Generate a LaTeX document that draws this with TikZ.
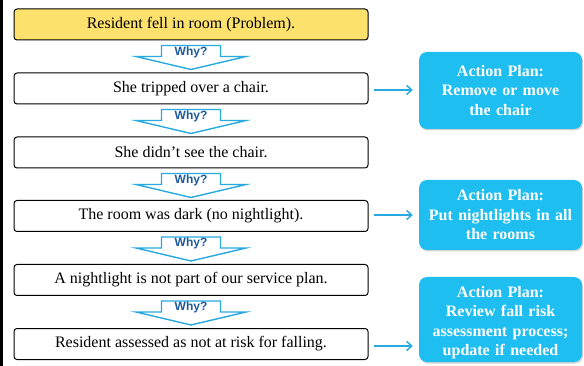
\documentclass[tikz,border=0pt]{standalone}
\usepackage{fontspec}
\setmainfont{Liberation Serif}
\newfontfamily\whyfont{Liberation Sans}
\usetikzlibrary{calc,arrows.meta,shadows}

\definecolor{probyellow}{HTML}{FDE16D}
\definecolor{plancyan}{HTML}{1EBEF0}
\definecolor{linkcyan}{HTML}{29A9E0}
\definecolor{whyblue}{HTML}{1C5A9C}

\tikzset{
  causebox/.style={draw=black, line width=1pt, rounded corners=3pt, fill=white,
    minimum width=354pt, minimum height=31pt, inner sep=0pt,
    font=\fontsize{16}{19}\selectfont},
  problembox/.style={causebox, fill=probyellow},
  plantext/.style={text=white, align=center, text width=157pt, inner sep=1pt,
    font=\bfseries\fontsize{16}{19.5}\selectfont},
  planbox/.style={plantext, fill=plancyan, rounded corners=8pt, minimum width=163pt,
    drop shadow={shadow xshift=1pt, shadow yshift=-1.5pt, opacity=0.35}},
  whyshape/.style={draw=linkcyan, line width=1.4pt, fill=white},
  whylabel/.style={text=whyblue, inner sep=0pt, font=\whyfont\bfseries\fontsize{12}{14}\selectfont},
  planlink/.style={draw=linkcyan, line width=1.5pt, -{Straight Barb[length=5pt,width=9pt]}}
}

% arrow "Why?" hanging under a box
\newcommand\whydrop[2]{%
  \draw[whyshape] ($(#1.south)+(-29.5,5)$) -- ++(59,0) -- ++(0,11) -- ++(25.5,0)
    -- ($(#1.south)+(0,29)$) -- ($(#1.south)+(-55,16)$) -- ++(25.5,0) -- cycle;
  \node[whylabel] (#2) at ($(#1.south)+(0,11.5)$) {Why?};
}

\begin{document}
\begin{tikzpicture}[x=1pt,y=-1pt]
  \useasboundingbox (0,0) rectangle (584,366);
  \fill[black] (0,0) rectangle (3,366);

  % the chain of causes
  \node[problembox] (p1) at (191,24.5) {Resident fell in room (Problem).};
  \node[causebox] (c2) at (191,88.5) {She tripped over a chair.};
  \node[causebox] (c3) at (191,152.5) {She didn’t see the chair.};
  \node[causebox] (c4) at (191,216) {The room was dark (no nightlight).};
  \node[causebox] (c5) at (191,280) {A nightlight is not part of our service plan.};
  \node[causebox] (c6) at (191,344) {Resident assessed as not at risk for falling.};

  \whydrop{p1}{w1}
  \whydrop{c2}{w2}
  \whydrop{c3}{w3}
  \whydrop{c4}{w4}
  \whydrop{c5}{w5}

  % action plans
  \node[planbox, minimum height=77pt] (a1) at (500.5,90.5)
    {Action Plan:\\Remove or move\\the chair};
  \node[planbox, minimum height=70pt] (a2) at (500.5,215)
    {Action Plan:\\Put nightlights in all\\the rooms};
  \node[planbox, minimum height=85pt] (a3) at (500.5,319.5) {};
  \node[plantext] (a3text) at ($(a3.center)+(0,3)$)
    {Action Plan:\\Review fall risk\\assessment process;\\update if needed};

  \draw[planlink] ($(c2.east)+(5,1.5)$) -- ($(c2.east -| a1.west)+(-6,1.5)$);
  \draw[planlink] ($(c4.east)+(5,-1)$) -- ($(c4.east -| a2.west)+(-6,-1)$);
  \draw[planlink] ($(c6.east)+(5,2)$) -- ($(c6.east -| a3.west)+(-6,2)$);
\end{tikzpicture}
\end{document}
